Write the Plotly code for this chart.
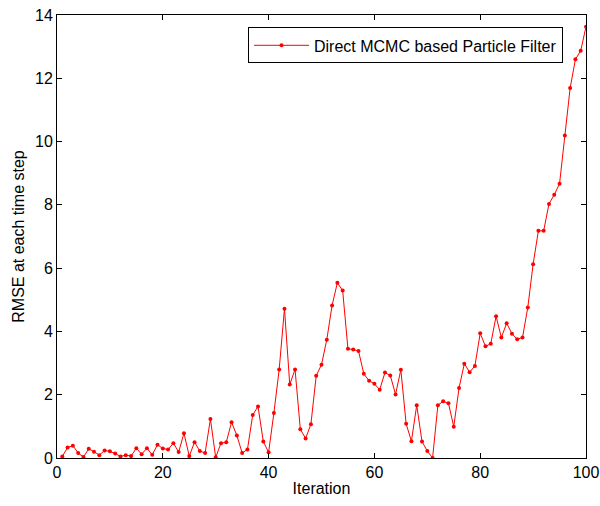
import plotly.graph_objects as go

iterations = list(range(1, 101))
rmse = [
    0.05, 0.33, 0.39, 0.16, 0.03, 0.29, 0.20, 0.09, 0.24, 0.21,
    0.14, 0.05, 0.09, 0.06, 0.31, 0.12, 0.31, 0.10, 0.42, 0.30,
    0.27, 0.47, 0.19, 0.78, 0.06, 0.50, 0.22, 0.16, 1.23, 0.02,
    0.47, 0.50, 1.13, 0.71, 0.16, 0.27, 1.36, 1.63, 0.52, 0.18,
    1.42, 2.80, 4.72, 2.32, 2.80, 0.91, 0.62, 1.07, 2.60, 2.95,
    3.74, 4.82, 5.54, 5.29, 3.45, 3.43, 3.38, 2.66, 2.44, 2.35,
    2.16, 2.70, 2.61, 2.01, 2.79, 1.08, 0.53, 1.67, 0.52, 0.22,
    0.00, 1.67, 1.79, 1.73, 0.99, 2.21, 2.98, 2.71, 2.91, 3.94,
    3.53, 3.61, 4.48, 3.81, 4.26, 3.93, 3.75, 3.81, 4.76, 6.12,
    7.18, 7.18, 8.03, 8.32, 8.67, 10.19, 11.69, 12.60, 12.87, 13.63,
]
series_name = "Direct MCMC based Particle Filter"
x_ticks = [0, 20, 40, 60, 80, 100]
y_ticks = [0, 2, 4, 6, 8, 10, 12, 14]

font_family = "Liberation Sans, Arial, sans-serif"
fs = 16

fig = go.Figure()
fig.add_trace(go.Scatter(
    x=iterations, y=rmse, mode="lines+markers", name=series_name,
    line=dict(color="#ff0000", width=1),
    marker=dict(color="#ff0000", size=4),
))

axis_common = dict(
    showline=True, linecolor="black", linewidth=1, mirror="ticks",
    ticks="inside", ticklen=5, tickcolor="black", tickwidth=1,
    showgrid=False, zeroline=False,
    tickfont=dict(family=font_family, size=fs, color="black"),
)

fig.update_layout(
    width=600, height=506,
    margin=dict(l=57, r=14, t=15, b=48, autoexpand=False),
    paper_bgcolor="white", plot_bgcolor="white",
    font=dict(family=font_family, size=fs, color="black"),
    xaxis=dict(range=[0, 100], tickvals=x_ticks,
               title=dict(text="Iteration", standoff=2,
                          font=dict(family=font_family, size=fs)),
               **axis_common),
    yaxis=dict(range=[0, 14], tickvals=y_ticks,
               title=dict(text="RMSE at each time step", standoff=6,
                          font=dict(family=font_family, size=fs)),
               **axis_common),
    showlegend=True,
    legend=dict(x=0.9565, y=0.972, xanchor="right", yanchor="top",
                bgcolor="white", bordercolor="black", borderwidth=1,
                itemwidth=55,
                font=dict(family=font_family, size=fs, color="black")),
)

fig.write_html("out.html")
